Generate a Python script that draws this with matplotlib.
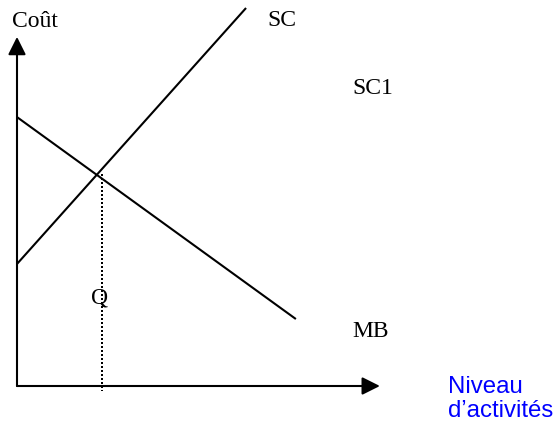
import matplotlib
matplotlib.use("Agg")
import matplotlib.pyplot as plt

# cost / activity diagram (arbitrary units)
q_level = 3.05
mb_x = [0.0, 9.96]
mb_y = [9.96, 2.48]
sc_x = [0.0, 8.18]
sc_y = [4.52, 14.0]
x_axis_end = 12.96
y_axis_end = 12.93
q_cost = 7.85

serif = "Liberation Serif"
sans = "Liberation Sans"


def main():
    fig = plt.figure(figsize=(5.54, 4.24), dpi=100)
    ax = fig.add_axes([0, 0, 1, 1])
    ax.set_xlim(-17 / 28, 537 / 28)
    ax.set_ylim(-38 / 27, 386 / 27)
    ax.axis("off")

    arrow = dict(arrowstyle="-|>,head_length=0.4,head_width=0.2",
                 mutation_scale=27, lw=1.5, color="black",
                 shrinkA=0, shrinkB=0)
    ax.annotate("", xy=(x_axis_end, 0), xytext=(0, 0), arrowprops=arrow)
    ax.annotate("", xy=(0, y_axis_end), xytext=(0, 0), arrowprops=arrow)

    ax.plot(mb_x, mb_y, color="black", lw=1.5, solid_capstyle="butt")
    ax.plot(sc_x, sc_y, color="black", lw=1.5, solid_capstyle="butt")
    # dotted drop line at Q
    ax.plot([q_level, q_level], [q_cost, -0.19], color="black", lw=1.44,
            linestyle=(0, (1, 1)), dash_capstyle="butt")

    ax.text(-0.18, 13.3, "Coût", family=serif, fontsize=17, va="baseline")
    ax.text(8.93, 13.33, "SC", family=serif, fontsize=17, va="baseline")
    ax.text(11.96, 10.81, "SC1", family=serif, fontsize=17, va="baseline")
    ax.text(q_level - 0.1, 3.07, "Q", family=serif, fontsize=17,
            va="baseline", ha="center")
    ax.text(11.96, 1.81, "MB", family=serif, fontsize=17, va="baseline")
    ax.text(15.39, -0.26, "Niveau", family=sans, fontsize=17.3,
            va="baseline", color="#0000ff")
    ax.text(15.39, -1.15, "d\u2019activités", family=sans, fontsize=17.3,
            va="baseline", color="#0000ff")

    fig.savefig("out.png", dpi=100, facecolor="white")


if __name__ == "__main__":
    main()
